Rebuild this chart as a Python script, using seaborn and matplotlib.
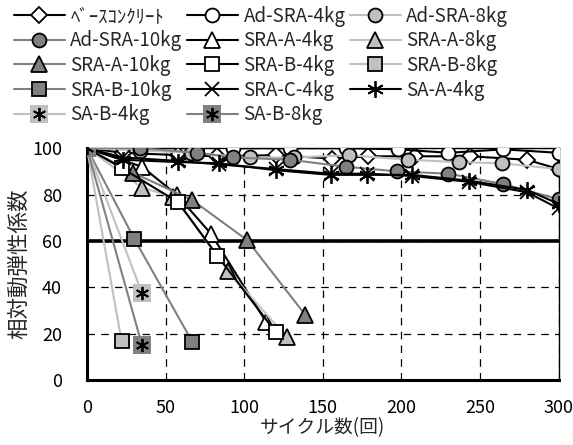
import matplotlib
matplotlib.use("Agg")
import matplotlib.pyplot as plt
import seaborn as sns
import pandas as pd
from matplotlib.lines import Line2D
from matplotlib.legend_handler import HandlerTuple
from matplotlib.ticker import MultipleLocator

sns.set_style("white")
plt.rcParams['font.family'] = ['Noto Sans CJK JP', 'DejaVu Sans']

# ---- data ----
names = ["ﾍﾞｰｽｺﾝｸﾘｰﾄ", "Ad-SRA-4kg", "Ad-SRA-8kg", "Ad-SRA-10kg", "SRA-A-4kg",
         "SRA-A-8kg", "SRA-A-10kg", "SRA-B-4kg", "SRA-B-8kg", "SRA-B-10kg",
         "SRA-C-4kg", "SA-A-4kg", "SA-B-4kg", "SA-B-8kg"]

base_x = [0, 23, 58, 83, 120, 156, 179, 209, 244, 280, 300]
base_y = [100, 98, 97, 96.5, 97, 95.5, 96.5, 96.5, 96.5, 95, 91]
adsra4_x = [0, 34, 70, 93, 129, 165, 198, 230, 265, 300]
adsra4_y = [100, 100, 100.5, 100, 100, 100, 99.5, 98, 99.5, 98]
adsra8_x = [0, 34, 66, 104, 132, 167, 204, 237, 264, 300]
adsra8_y = [100, 99, 98, 96, 96, 97, 95, 94, 93.5, 91]
adsra10_x = [0, 34, 70, 93, 129, 165, 197, 230, 265, 300]
adsra10_y = [100, 100, 98, 96, 95, 92, 90, 89, 84.5, 78]
sraa4_x = [0, 35, 57, 79, 114]
sraa4_y = [100, 92, 80, 63, 25]
sraa8_x = [0, 35, 55, 90, 127]
sraa8_y = [100, 83, 79, 47, 18.5]
sraa10_x = [0, 29, 67, 102, 139]
sraa10_y = [100, 89.5, 77.6, 60.3, 28]
srab4_x = [0, 22, 58, 83, 120]
srab4_y = [100, 91.5, 76.7, 53.6, 20.7]
srab8_x = [0, 22]
srab8_y = [100, 17]
srab10_x = [0, 30, 67]
srab10_y = [100, 61, 16.5]
srac4_x = [0, 23, 58, 84, 120, 155, 178, 207, 243, 280, 300]
srac4_y = [100, 96, 94.5, 93, 91, 89, 89, 88, 85.5, 81, 74]
saa4_x = [0, 23, 58, 84, 120, 155, 178, 207, 243, 280, 300]
saa4_y = [100, 95, 94, 93.5, 90.5, 88.5, 88.5, 88.5, 86, 82, 76]
sab4_x = [0, 35]
sab4_y = [100, 37.5]
sab8_x = [0, 35]
sab8_y = [100, 15]

xs = [base_x, adsra4_x, adsra8_x, adsra10_x, sraa4_x, sraa8_x, sraa10_x,
      srab4_x, srab8_x, srab10_x, srac4_x, saa4_x, sab4_x, sab8_x]
ys = [base_y, adsra4_y, adsra8_y, adsra10_y, sraa4_y, sraa8_y, sraa10_y,
      srab4_y, srab8_y, srab10_y, srac4_y, saa4_y, sab4_y, sab8_y]

K, LG, DG, W = "black", "#c0c0c0", "#808080", "white"
AST = (6, 2, 0)
# (line color, marker, marker size, face color, edge color, special bg)
styles = [
    (K, "D", 8.5, W, K, None),
    (K, "o", 10, W, K, None),
    (LG, "o", 10, LG, K, None),
    (DG, "o", 10, DG, K, None),
    (K, "^", 11, W, K, None),
    (LG, "^", 11, LG, K, None),
    (DG, "^", 11, DG, K, None),
    (K, "s", 9.5, W, K, None),
    (LG, "s", 9.5, LG, K, None),
    (DG, "s", 9.5, DG, K, None),
    (K, "x", 10, K, K, None),
    (K, AST, 12, K, K, None),
    (LG, AST, 9.5, K, K, LG),
    (DG, AST, 9.5, K, K, DG),
]

fig = plt.figure(figsize=(5.73, 4.45), dpi=100)
ax = fig.add_axes([0.1518, 0.146, 0.8229, 0.521])

handles = []
for i, (name, x, y, st) in enumerate(zip(names, xs, ys, styles)):
    lc, mk, ms, fc, ec, bg = st
    df = pd.DataFrame({"x": x, "y": y})
    z = 3 + i * 0.1
    if bg is not None:
        sns.lineplot(data=df, x="x", y="y", ax=ax, color=lc, lw=1.5,
                     marker="s", markersize=13, markerfacecolor=bg,
                     markeredgecolor=bg, markeredgewidth=0, zorder=z, legend=False)
        sns.lineplot(data=df, x="x", y="y", ax=ax, color=lc, lw=0,
                     marker=AST, markersize=ms, markerfacecolor=K,
                     markeredgecolor=K, markeredgewidth=1.3, zorder=z + 0.05,
                     legend=False)
        h1 = Line2D([], [], color=lc, lw=1.5, marker="s", ms=13, mfc=bg, mec=bg, mew=0)
        h2 = Line2D([], [], ls="none", marker=AST, ms=ms, mec=K, mfc=K, mew=1.3)
        handles.append((h1, h2))
    else:
        sns.lineplot(data=df, x="x", y="y", ax=ax, color=lc, lw=1.5,
                     marker=mk, markersize=ms, markerfacecolor=fc,
                     markeredgecolor=ec, markeredgewidth=1.3, zorder=z,
                     legend=False)
        handles.append(Line2D([], [], color=lc, lw=1.5, marker=mk, ms=ms,
                              mfc=fc, mec=ec, mew=1.3))

ax.axhline(60, color="black", lw=2.6, zorder=2.5)

ax.set_xlim(0, 300)
ax.set_ylim(0, 100)
ax.xaxis.set_major_locator(MultipleLocator(50))
ax.xaxis.set_minor_locator(MultipleLocator(10))
ax.yaxis.set_major_locator(MultipleLocator(20))
ax.yaxis.set_minor_locator(MultipleLocator(5))
ax.grid(True, which="major", color="black", lw=0.9, ls=(0, (6, 5)), zorder=1)
ax.set_axisbelow(True)
ax.tick_params(axis="both", which="both", direction="in", colors="black",
               labelsize=13)
ax.tick_params(axis="both", which="major", length=5, width=1)
ax.tick_params(axis="both", which="minor", length=4, width=1)
ax.tick_params(axis="y", which="major", pad=18)
ax.tick_params(axis="x", which="major", pad=14)
for s in ["left", "bottom"]:
    ax.spines[s].set_linewidth(2.2)
    ax.spines[s].set_color("black")
for s in ["top", "right"]:
    ax.spines[s].set_linewidth(1.0)
    ax.spines[s].set_color("black")

ax.set_xlabel("サイクル数(回)", fontsize=13.5, labelpad=0)
ax.set_ylabel("相対動弾性係数", fontsize=15.5, labelpad=1)

# legend laid out row by row (3 columns)
order = [0, 3, 6, 9, 12, 1, 4, 7, 10, 13, 2, 5, 8, 11]
fig.legend([handles[i] for i in order], [names[i] for i in order], ncol=3,
           loc="upper left", bbox_to_anchor=(0.005, 1.012),
           frameon=False, fontsize=13.5, handlelength=2.7, handletextpad=0.3,
           columnspacing=0.25, labelspacing=0.19, borderaxespad=0.2,
           handler_map={tuple: HandlerTuple(ndivide=1, pad=0)})

fig.savefig("out.png", dpi=100)
